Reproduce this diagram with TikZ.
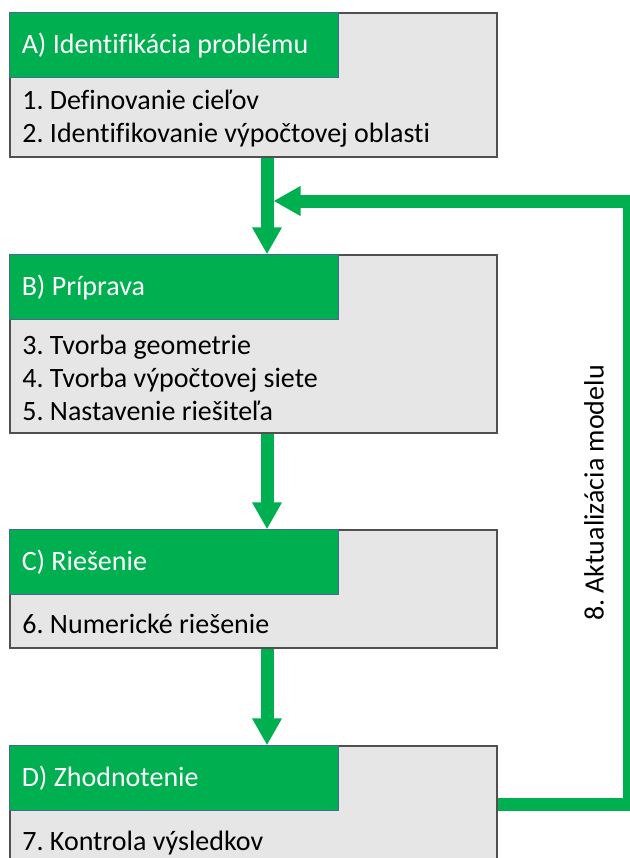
\documentclass[tikz,border=0pt]{standalone}
\usepackage{fontspec}
\setmainfont[Ligatures=NoCommon]{Carlito}
\usetikzlibrary{arrows.meta}
\definecolor{stepgreen}{RGB}{0,176,80}
\definecolor{boxgray}{RGB}{230,230,230}
\definecolor{boxline}{RGB}{80,80,80}
\definecolor{headline}{RGB}{70,105,150}
\frenchspacing
\begin{document}
\begin{tikzpicture}[x=0.5pt, y=-0.5pt,
    every node/.style={font=\fontsize{14}{16.5}\selectfont, inner sep=0pt},
    stage/.style={draw=boxline, fill=boxgray, line width=0.75pt, minimum width=243.5pt},
    head/.style={draw=headline, fill=stepgreen, line width=0.5pt, text=white, anchor=north west, minimum width=164.5pt, minimum height=32.5pt, text width=152.5pt, align=flush left},
    body/.style={anchor=west, align=left},
    flow/.style={draw=stepgreen, line width=6.5pt, -{Triangle[width=14pt, length=13.5pt]}}
  ]
  \useasboundingbox (0,0) rectangle (629,858);
  \coordinate (axis) at (267,0);
  \coordinate (loopB) at (629.5,804);
  \coordinate (join) at (273.5,201);

  \node[stage, minimum height=72pt] (A) at (253.5,85) {};
  \node[head] (hA) at (A.north west) {A) Identifikácia problému};
  \node[body] (tA) at (22,118.5) {1. Definovanie cieľov\\2. Identifikovanie výpočtovej oblasti};

  \node[stage, minimum height=89pt] (B) at (253.5,344) {};
  \node[head] (hB) at (B.north west) {B) Príprava};
  \node[body] (tB) at (22,378) {3. Tvorba geometrie\\4. Tvorba výpočtovej siete\\5. Nastavenie riešiteľa};

  \node[stage, minimum height=59pt] (C) at (253.5,589) {};
  \node[head] (hC) at (C.north west) {C) Riešenie};
  \node[body] (tC) at (22,624) {6. Numerické riešenie};

  \node[stage, minimum height=67pt] (D) at (253.5,813) {};
  \node[head] (hD) at (D.north west) {D) Zhodnotenie};
  \node[body] (tD) at (22,843) {7. Kontrola výsledkov};

  \node[rotate=90] (upd) at (594,493) {8. Aktualizácia modelu};

  \draw[flow] (A.south -| axis) -- (B.north -| axis);
  \draw[flow] (B.south -| axis) -- (C.north -| axis);
  \draw[flow] (C.south -| axis) -- (D.north -| axis);
  \draw[flow] (D.east |- loopB) -- (loopB) |- (join);
\end{tikzpicture}
\end{document}
